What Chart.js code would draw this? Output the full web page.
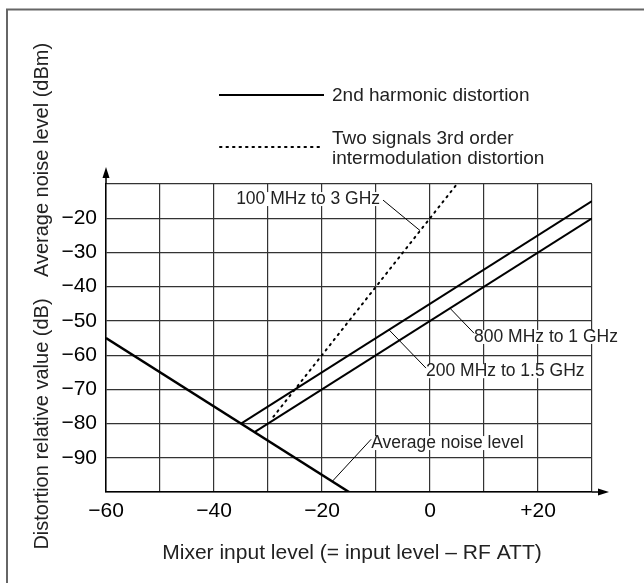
<!DOCTYPE html>
<html>
<head>
<meta charset="utf-8">
<script src="https://cdn.jsdelivr.net/npm/chart.js@4"></script>
<style>
  html, body { margin: 0; padding: 0; background: #fff; }
  canvas { display: block; }
</style>
</head>
<body>
<canvas id="chart" width="644" height="583"></canvas>
<script>
// data (x: mixer input level dBm, y: dB / dBm)
const noiseX = [-60, -15];
const noiseY = [-55, -100];
const harm200X = [-35, 30];          // 200 MHz to 1.5 GHz
const harm200Y = [-80, -15];
const harm800X = [-32.5, 30];        // 800 MHz to 1 GHz
const harm800Y = [-82.5, -20];
const im3X = [-29, 5];               // 100 MHz to 3 GHz, 3rd order
const im3Y = [-78, -10];

const xTicks = [-60, -40, -20, 0, 20];
const yTicks = [-20, -30, -40, -50, -60, -70, -80, -90];

const FONT = "'Liberation Sans', Arial, sans-serif";

function pts(xs, ys) {
  return xs.map((x, i) => ({ x: x, y: ys[i] }));
}
function fmt(v) {
  if (v < 0) return "\u2212" + Math.abs(v);
  if (v > 0) return "+" + v;
  return "0";
}

// callouts, anchored in data units: text left/middle, leader from->to
const callouts = [
  { text: "100 MHz to 3 GHz", x: -35.9, y: -14.4, from: [-8.7, -14.7], to: [-1.85, -23.6] },
  { text: "800 MHz to 1 GHz", x: 8.15, y: -54.7, from: [8.15, -53.6], to: [3.7, -46.3] },
  { text: "200 MHz to 1.5 GHz", x: -0.74, y: -64.7, from: [-0.74, -63.8], to: [-7.6, -52.6] },
  { text: "Average noise level", x: -10.9, y: -85.7, from: [-10.9, -84.6], to: [-18.1, -96.9] },
];

const decor = {
  id: "decor",
  afterDatasetsDraw(chart) {
    const ctx = chart.ctx;
    const xs = chart.scales.x, ys = chart.scales.y;
    const ca = chart.chartArea;
    ctx.save();

    // outer frame (top + left)
    ctx.strokeStyle = "#666";
    ctx.lineWidth = 2;
    ctx.beginPath();
    ctx.moveTo(7, 583);
    ctx.lineTo(7, 9.5);
    ctx.lineTo(644, 9.5);
    ctx.stroke();

    // axis arrows
    ctx.strokeStyle = "#000";
    ctx.fillStyle = "#000";
    ctx.lineWidth = 1.5;
    ctx.beginPath();
    ctx.moveTo(ca.left, ca.top);
    ctx.lineTo(ca.left, ca.top - 10);
    ctx.moveTo(ca.right, ca.bottom);
    ctx.lineTo(ca.right + 8, ca.bottom);
    ctx.stroke();
    ctx.beginPath();
    ctx.moveTo(ca.left, ca.top - 17);
    ctx.lineTo(ca.left - 3.5, ca.top - 6);
    ctx.lineTo(ca.left + 3.5, ca.top - 6);
    ctx.closePath();
    ctx.fill();
    ctx.beginPath();
    ctx.moveTo(ca.right + 17, ca.bottom);
    ctx.lineTo(ca.right + 6, ca.bottom - 3.5);
    ctx.lineTo(ca.right + 6, ca.bottom + 3.5);
    ctx.closePath();
    ctx.fill();

    // callouts
    ctx.font = "17.5px " + FONT;
    ctx.textBaseline = "middle";
    ctx.textAlign = "left";
    callouts.forEach((c) => {
      const tx = xs.getPixelForValue(c.x);
      const ty = ys.getPixelForValue(c.y);
      const w = ctx.measureText(c.text).width;
      ctx.fillStyle = "#fff";
      ctx.fillRect(tx - 1, ty - 7, w + 2, 14);
      ctx.fillStyle = "#222";
      ctx.fillText(c.text, tx, ty);
      ctx.strokeStyle = "#000";
      ctx.lineWidth = 1;
      ctx.beginPath();
      ctx.moveTo(xs.getPixelForValue(c.from[0]), ys.getPixelForValue(c.from[1]));
      ctx.lineTo(xs.getPixelForValue(c.to[0]), ys.getPixelForValue(c.to[1]));
      ctx.stroke();
    });

    // legend
    ctx.strokeStyle = "#000";
    ctx.lineWidth = 2;
    ctx.beginPath();
    ctx.moveTo(219, 95);
    ctx.lineTo(324, 95);
    ctx.stroke();
    ctx.lineWidth = 2;
    ctx.setLineDash([1.5, 5]);
    ctx.lineCap = "round";
    ctx.beginPath();
    ctx.moveTo(220, 147);
    ctx.lineTo(324, 147);
    ctx.stroke();
    ctx.setLineDash([]);
    ctx.lineCap = "butt";
    ctx.fillStyle = "#222";
    ctx.font = "19px " + FONT;
    ctx.fillText("2nd harmonic distortion", 332, 96);
    ctx.fillText("Two signals 3rd order", 332, 139);
    ctx.fillText("intermodulation distortion", 332, 159);

    // axis titles
    ctx.textAlign = "center";
    ctx.font = "21px " + FONT;
    ctx.fillText("Mixer input level (= input level \u2013 RF ATT)", 352, 553);
    ctx.font = "20px " + FONT;
    ctx.save();
    ctx.translate(42, 160);
    ctx.rotate(-Math.PI / 2);
    ctx.fillText("Average noise level (dBm)", 0, 0);
    ctx.restore();
    ctx.save();
    ctx.translate(42, 424);
    ctx.rotate(-Math.PI / 2);
    ctx.fillText("Distortion relative value (dB)", 0, 0);
    ctx.restore();

    ctx.restore();
  },
};

const lineDs = (label, xs, ys, width, dash) => ({
  label: label,
  data: pts(xs, ys),
  showLine: true,
  borderColor: "#000",
  borderWidth: width,
  borderDash: dash || [],
  borderCapStyle: dash ? "round" : "butt",
  pointRadius: 0,
  fill: false,
});

new Chart(document.getElementById("chart"), {
  type: "scatter",
  data: {
    datasets: [
      lineDs("Average noise level", noiseX, noiseY, 2.5),
      lineDs("200 MHz to 1.5 GHz", harm200X, harm200Y, 2),
      lineDs("800 MHz to 1 GHz", harm800X, harm800Y, 2),
      lineDs("100 MHz to 3 GHz", im3X, im3Y, 2, [1.5, 5]),
    ],
  },
  options: {
    responsive: false,
    animation: false,
    layout: { padding: { top: 184, right: 52, left: 0, bottom: 0 } },
    plugins: { legend: { display: false }, tooltip: { enabled: false } },
    scales: {
      x: {
        type: "linear",
        min: -60,
        max: 30,
        afterFit: (s) => { s.height = 91; },
        border: { display: true, color: "#000", width: 1.5 },
        grid: { color: "#333", lineWidth: 1.2, drawTicks: false },
        ticks: {
          stepSize: 10,
          padding: 7,
          color: "#000",
          font: { family: FONT, size: 21 },
          callback: (v) => (xTicks.includes(v) ? fmt(v) : ""),
        },
      },
      y: {
        type: "linear",
        min: -100,
        max: -10,
        afterFit: (s) => { s.width = 106; },
        border: { display: true, color: "#000", width: 1.5 },
        grid: { color: "#333", lineWidth: 1.2, drawTicks: false },
        ticks: {
          stepSize: 10,
          padding: 9,
          color: "#000",
          font: { family: FONT, size: 21 },
          callback: (v) => (yTicks.includes(v) ? fmt(v) : ""),
        },
      },
    },
  },
  plugins: [decor],
});
</script>
</body>
</html>
